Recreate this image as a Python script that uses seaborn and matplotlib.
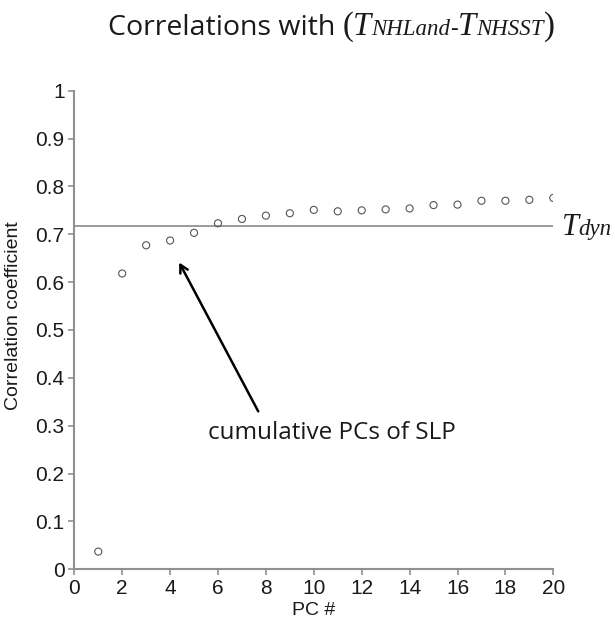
import matplotlib
matplotlib.use("Agg")
import matplotlib.pyplot as plt
from matplotlib.transforms import IdentityTransform
import numpy as np
import pandas as pd
import seaborn as sns

# Correlation of cumulative SLP principal components with the land-sea contrast
pc_number = list(range(1, 21))
correlation = [0.037, 0.618, 0.677, 0.687, 0.703, 0.723, 0.732, 0.739, 0.744, 0.751,
               0.748, 0.750, 0.752, 0.754, 0.761, 0.762, 0.770, 0.770, 0.772, 0.776]
t_dyn = 0.718
x_ticks = list(range(0, 21, 2))
y_ticks = [0, 0.1, 0.2, 0.3, 0.4, 0.5, 0.6, 0.7, 0.8, 0.9, 1]
y_tick_labels = ["0", "0.1", "0.2", "0.3", "0.4", "0.5", "0.6", "0.7", "0.8", "0.9", "1"]

df = pd.DataFrame({"pc": pc_number, "r": correlation})

sns.set_style("ticks")
plt.rcParams["font.family"] = ["Liberation Sans", "DejaVu Sans"]

W, H, DPI = 615, 623, 100
fig = plt.figure(figsize=(W / DPI, H / DPI), dpi=DPI)
ax = fig.add_axes([74.3 / W, 1 - 569.3 / H, (553.3 - 74.3) / W, (569.3 - 90.7) / H])

sns.scatterplot(data=df, x="pc", y="r", ax=ax, marker="o", s=26,
                color="#555555", linewidth=0.8, legend=False, zorder=3)
ax.collections[0].set_facecolor("none")
ax.collections[0].set_edgecolor("#555555")

# reference level of the dynamical component
ax.axhline(t_dyn, xmin=0, xmax=1, color="#808080", lw=1.1, zorder=2)

ax.set_xlim(0, 20)
ax.set_ylim(0, 1)
ax.set_xticks(x_ticks)
ax.set_xticklabels([str(v) for v in x_ticks])
ax.set_yticks(y_ticks)
ax.set_yticklabels(y_tick_labels)
ax.tick_params(axis="both", labelsize=15, colors="#909090", labelcolor="#1a1a1a",
               length=4, width=1.2, pad=3)
for side in ("top", "right"):
    ax.spines[side].set_visible(False)
for side in ("left", "bottom"):
    ax.spines[side].set_color("#909090")
    ax.spines[side].set_linewidth(1.5)

ax.set_xlabel("PC #", fontsize=14, color="#1a1a1a", va="center")
ax.set_ylabel("Correlation coefficient", fontsize=14, color="#1a1a1a", va="center")
ax.xaxis.set_label_coords(0.5, -0.087)
ax.yaxis.set_label_coords(-0.126, 0.531)

# arrow pointing at the cumulative PCs
ax.annotate("", xy=(4.38, 0.641), xytext=(7.68, 0.330),
            arrowprops=dict(arrowstyle="->,head_length=0.55,head_width=0.3",
                            color="black", lw=1.8, shrinkA=0, shrinkB=0))
ax.text(10.75, 0.285, "cumulative PCs of SLP", fontsize=17.5, family="Open Sans",
        color="#1a1a1a", ha="center", va="center")

renderer = fig.canvas.get_renderer()


def chain_text(pieces, x_px, y_px, center=False):
    """Lay out text runs side by side on one baseline, in pixel coordinates."""
    texts = []
    for s, kw in pieces:
        t = fig.text(0, y_px, s, transform=IdentityTransform(), ha="left",
                     va="baseline", **kw)
        texts.append(t)
    widths = [t.get_window_extent(renderer).width for t in texts]
    start = x_px - sum(widths) / 2 if center else x_px
    for t, w in zip(texts, widths):
        t.set_x(start)
        start += w
    return texts


serif_it = dict(family="Liberation Serif", style="italic", color="#1a1a1a")
serif = dict(family="Liberation Serif", color="#1a1a1a")
sans = dict(family="Open Sans", color="#1a1a1a")

# title with subscripted temperature symbols
chain_text([
    ("Correlations with ", dict(fontsize=20.5, **sans)),
    ("(", dict(fontsize=23.5, **serif)),
    ("T", dict(fontsize=23.5, **serif_it)),
    ("NHLand", dict(fontsize=16.5, **serif_it)),
    ("-", dict(fontsize=16.5, **serif_it)),
    ("T", dict(fontsize=23.5, **serif_it)),
    ("NHSST", dict(fontsize=16.5, **serif_it)),
    (")", dict(fontsize=23.5, **serif)),
], 331, H - 35, center=True)

# label at the right end of the reference line
x0, _ = ax.transData.transform((20.35, 0.0))
_, yb = ax.transData.transform((0, 0.699))
chain_text([
    ("T", dict(fontsize=22, **serif_it)),
    ("dyn", dict(fontsize=16.5, **serif_it)),
], x0, yb)

fig.savefig("out.png", dpi=DPI, facecolor="white")
